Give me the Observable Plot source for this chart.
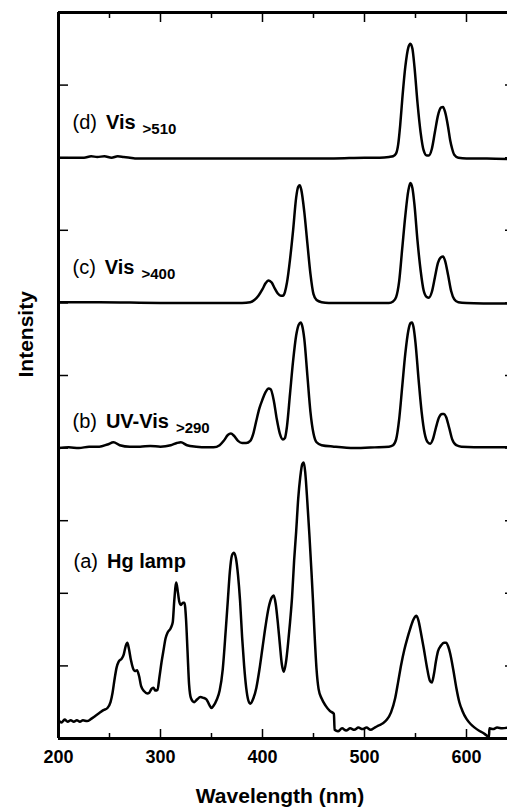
<!DOCTYPE html>
<html><head><meta charset="utf-8">
<script src="https://cdn.jsdelivr.net/npm/d3@7"></script>
<script src="https://cdn.jsdelivr.net/npm/@observablehq/plot@0.6"></script>
<style>
html,body{margin:0;padding:0;overflow:hidden;background:#fff;}
svg{overflow:hidden !important;}
</style></head><body><div id="chart"></div>
<script>
// Spectra: [wavelength nm, intensity (stacked offset units)]
const specD = [[200,8.0],[225,8.0],[232,8.02],[238,8.01],[245,8.02],[252,8.0],[258,8.02],[264,8.01],[270,8.0],[275,7.99],[320,7.99],[400,7.99],[470,7.99],[500,8.0],[515,8.0],[524,8.01],[528,8.02],[531,8.06],[533,8.18],[535,8.45],[537,8.8],[540,9.25],[543,9.52],[545,9.57],[547,9.5],[549,9.25],[552,8.75],[555,8.35],[558,8.1],[561,8.03],[563,8.03],[566,8.12],[569,8.35],[572,8.58],[575,8.69],[577,8.7],[579,8.63],[582,8.42],[584,8.24],[586,8.12],[588,8.04],[592,8.0],[600,7.99],[620,7.99],[641,7.98]];
const specC = [[200,6.01],[240,6.01],[300,6.0],[380,6.0],[388,6.01],[392,6.04],[396,6.1],[400,6.19],[403,6.27],[406,6.31],[409,6.28],[412,6.2],[415,6.13],[418,6.1],[420,6.1],[422,6.15],[424,6.28],[427,6.6],[430,7.0],[433,7.45],[435,7.6],[436.5,7.62],[438,7.56],[441,7.25],[444,6.82],[447,6.4],[450,6.12],[453,6.04],[458,6.01],[465,6.0],[500,6.0],[524,6.0],[528,6.02],[531,6.08],[534,6.3],[537,6.75],[540,7.2],[543,7.55],[545,7.65],[547,7.58],[549,7.35],[552,6.85],[555,6.45],[558,6.17],[561,6.08],[563,6.07],[566,6.15],[569,6.35],[572,6.55],[575,6.63],[577,6.64],[579,6.58],[582,6.38],[585,6.16],[588,6.05],[592,6.01],[600,6.0],[641,5.99]];
const specB = [[200,4.0],[210,4.01],[220,4.0],[230,4.02],[240,4.02],[248,4.05],[254,4.08],[260,4.04],[270,4.02],[280,4.02],[290,4.03],[300,4.02],[310,4.04],[316,4.07],[320,4.08],[326,4.04],[335,4.02],[345,4.01],[352,4.01],[358,4.04],[362,4.1],[366,4.18],[369,4.2],[372,4.17],[376,4.1],[380,4.07],[384,4.07],[388,4.1],[391,4.2],[394,4.38],[397,4.55],[400,4.67],[403,4.77],[406,4.82],[408,4.81],[411,4.66],[414,4.4],[417,4.2],[420,4.12],[422,4.14],[424,4.3],[427,4.75],[430,5.2],[433,5.55],[435.5,5.7],[437.5,5.73],[439,5.68],[441,5.5],[444,5.0],[447,4.5],[450,4.2],[453,4.08],[458,4.04],[470,4.02],[490,4.0],[510,4.01],[524,4.02],[528,4.04],[531,4.12],[534,4.4],[537,4.85],[540,5.3],[543,5.62],[545,5.72],[546.5,5.73],[548,5.67],[550,5.45],[553,4.95],[556,4.5],[559,4.2],[562,4.08],[564.5,4.06],[567,4.12],[570,4.28],[573,4.42],[576,4.47],[578,4.47],[580,4.43],[583,4.28],[586,4.12],[590,4.04],[595,4.02],[620,4.01],[641,4.01]];
const specA = [[200,0.25],[203,0.22],[206,0.26],[209,0.23],[212,0.25],[215,0.23],[218,0.25],[221,0.23],[224,0.25],[228,0.24],[232,0.27],[236,0.31],[240,0.35],[244,0.39],[248,0.42],[251,0.5],[253,0.63],[255,0.82],[257,0.98],[259,1.06],[262,1.1],[264,1.16],[266,1.28],[267.5,1.32],[269,1.24],[271,1.08],[273,0.97],[275,0.93],[277,0.94],[279,0.86],[281,0.72],[284,0.65],[287,0.62],[289,0.63],[291,0.68],[293,0.7],[295,0.66],[297,0.67],[299,0.85],[301,1.05],[303,1.22],[305,1.38],[307,1.46],[310,1.52],[312,1.6],[313.5,1.9],[315.5,2.15],[317,2.02],[318.5,1.88],[320,1.84],[322,1.87],[323.5,1.87],[325,1.65],[326.5,1.2],[328,0.75],[330,0.55],[333,0.5],[336,0.54],[339,0.57],[342,0.56],[345,0.54],[348,0.46],[350,0.42],[352,0.45],[355,0.53],[358,0.66],[361,0.95],[364,1.5],[366,1.9],[368,2.3],[370,2.52],[372,2.56],[374,2.48],[376,2.25],[378,1.9],[380,1.4],[382,1.0],[384,0.7],[386,0.53],[388,0.48],[391,0.55],[394,0.7],[397,0.95],[400,1.25],[403,1.55],[406,1.8],[409,1.94],[411,1.97],[413,1.85],[415,1.6],[417,1.3],[419,1.02],[421,0.92],[423,1.05],[425,1.3],[427,1.6],[429,1.95],[431,2.45],[433,2.85],[435,3.3],[437,3.6],[439,3.78],[440.5,3.8],[442,3.65],[444,3.25],[446,2.8],[448,2.3],[449.5,1.9],[451,1.45],[453,0.95],[455,0.68],[458,0.55],[462,0.45],[466,0.38],[470,0.34],[470.7,0.12],[474,0.1],[478,0.14],[482,0.11],[486,0.14],[490,0.12],[494,0.15],[498,0.13],[502,0.15],[506,0.12],[510,0.15],[514,0.18],[518,0.21],[522,0.26],[526,0.36],[530,0.55],[533,0.78],[536,1.02],[539,1.22],[542,1.38],[545,1.52],[548,1.64],[551,1.69],[553,1.62],[555,1.48],[558,1.25],[561,1.0],[564,0.8],[566,0.77],[568,0.88],[570,1.06],[572,1.2],[575,1.28],[578,1.32],[580,1.32],[582,1.27],[584,1.17],[587,0.95],[590,0.7],[593,0.5],[596,0.38],[600,0.27],[604,0.2],[608,0.15],[612,0.11],[616,0.08],[619,0.05],[622,0.02],[622.5,0.14],[626,0.13],[630,0.15],[635,0.14],[641,0.15]];

const seriesNames = ["a","b","c","d"];
const xMajorTicks = [200,300,400,500,600];
const xMinorTicks = [250,350,450,550];
const xTickLabels = [200,300,400,500,600];
const yTicks = [1,2,3,4,5,6,7,8,9];

// Panel labels
const panelTag  = ["(d)","(c)","(b)","(a)"];
const panelName = ["Vis","Vis","UV-Vis","Hg lamp"];
const panelSub  = [">510",">400",">290",""];
const panelX    = [213.7,213.7,213.7,214.7];
const panelY    = [8.40,6.40,4.27,2.355];

const xTitle = "Wavelength (nm)";
const yTitle = "Intensity";

const rows = [];
[specA, specB, specC, specD].forEach((s, i) => s.forEach(([x, y]) => rows.push({series: seriesNames[i], x, y})));
const labelRows = panelTag.map((t, i) => ({t, x: panelX[i], y: panelY[i]}));

const FONT = "'Liberation Sans', Arial, Helvetica, sans-serif";
const blank = () => "";

const chart = Plot.plot({
  width: 507, height: 808,
  marginLeft: 58, marginRight: 0, marginTop: 12, marginBottom: 70,
  style: {fontFamily: FONT, background: "white", color: "black"},
  x: {domain: [200, 640.2]},
  y: {domain: [0, 10]},
  marks: [
    Plot.line(rows, {x: "x", y: "y", z: "series", stroke: "black", strokeWidth: 2.5, curve: "monotone-x"}),
    Plot.ruleX([200], {stroke: "black", strokeWidth: 3}),
    Plot.ruleY([0, 10], {stroke: "black", strokeWidth: 3}),
    Plot.axisX(xMajorTicks, {anchor: "bottom", tickSize: -9, strokeWidth: 1.5, tickFormat: blank, label: null}),
    Plot.axisX(xMinorTicks, {anchor: "bottom", tickSize: -5, strokeWidth: 1.5, tickFormat: blank, label: null}),
    Plot.axisX(xMajorTicks, {anchor: "top", tickSize: -9, strokeWidth: 1.5, tickFormat: blank, label: null}),
    Plot.axisX(xMinorTicks, {anchor: "top", tickSize: -5, strokeWidth: 1.5, tickFormat: blank, label: null}),
    Plot.axisY(yTicks, {anchor: "left", tickSize: -10, strokeWidth: 1.5, tickFormat: blank, label: null}),
    Plot.axisY(yTicks, {anchor: "right", tickSize: -3, strokeWidth: 1.5, tickFormat: blank, label: null}),
    Plot.axisX(xTickLabels, {anchor: "bottom", tickSize: 0, tickPadding: 12, fontSize: 18, fontWeight: "bold", label: null}),
    Plot.text([xTitle], {frameAnchor: "bottom", dy: 64, dx: -3, lineAnchor: "bottom", fontSize: 21, fontWeight: "bold", fill: "black"}),
    Plot.text([yTitle], {frameAnchor: "left", rotate: -90, dx: -26, dy: 2, lineAnchor: "bottom", fontSize: 21, fontWeight: "bold", fill: "black"}),
    Plot.text(labelRows, {x: "x", y: "y", text: "t", textAnchor: "start", lineAnchor: "bottom", fontSize: 20, fill: "black"})
  ]
});

d3.select(chart).selectAll("text").each(function() {
  const i = panelTag.indexOf(this.textContent);
  if (i < 0) return;
  const sel = d3.select(this);
  sel.text(null);
  sel.append("tspan").text(panelTag[i]);
  sel.append("tspan").attr("dx", 9).attr("font-weight", "bold").text(panelName[i]);
  if (panelSub[i]) sel.append("tspan").attr("dx", 7).attr("dy", 5).attr("font-weight", "bold").attr("font-size", 15).text(panelSub[i]);
});

document.getElementById("chart").appendChild(chart);
</script>
</body></html>
